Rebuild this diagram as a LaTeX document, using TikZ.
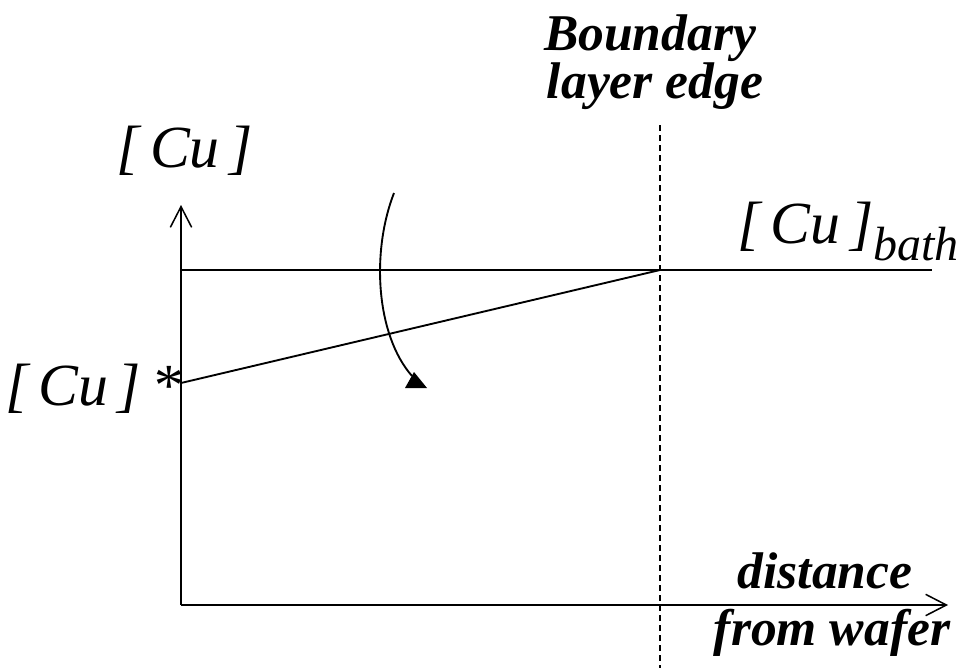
\documentclass[tikz,border=0pt]{standalone}
\usepackage{fontspec}
\setmainfont{Liberation Serif}
\usetikzlibrary{arrows.meta}
\tikzset{
  axis/.style={line width=1.6pt,-{Straight Barb[length=0.62cm,width=0.64cm,line width=1.3pt]}},
  plain/.style={line width=1.6pt},
  lbl/.style={anchor=base,inner sep=0pt,font=\fontsize{51}{55}\selectfont\itshape},
  bold lbl/.style={anchor=base,inner sep=0pt,align=center,font=\fontsize{44}{48}\selectfont\bfseries\itshape}
}
\begin{document}
\begin{tikzpicture}[x=0.03cm,y=-0.03cm]
  \useasboundingbox (0,0) rectangle (961,668);
  % axes
  \coordinate (O) at (181,605);
  \coordinate (ytip) at (181,205);
  \coordinate (xtip) at (948,605);
  \draw[axis] (O)--(ytip);
  \draw[axis] (O)--(xtip);
  % bath level and gradient
  \coordinate (bathL) at (181,270);
  \coordinate (bathR) at (932,270);
  \coordinate (E) at (660,270);
  \coordinate (S) at (181,383);
  \draw[plain] (bathL)--(bathR);
  \draw[plain] (S)--(E);
  % boundary layer edge
  \coordinate (Etop) at (660,125);
  \coordinate (Ebot) at (660,668);
  \draw[line width=1pt,dash pattern=on 0.18cm off 0.12cm] (Etop)--(Ebot);
  % curved arrow
  \coordinate (c0) at (394,193);
  \coordinate (c1) at (412,376);
  \draw[plain] (c0) .. controls (371,252) and (376,335) .. (c1);
  \fill (414,372)--(427,388)--(405,388)--cycle;
  % labels
  \node[bold lbl] (bnd) at (650,50) {Boundary};
  \node[bold lbl] (lay) at (655,98) {layer edge};
  \node[lbl] (cu) at (185,167) {[\,Cu\,]};
  \node[lbl] (cubath) at (848,243) {[\,Cu\,]\raisebox{-15pt}{\fontsize{41}{44}\selectfont\itshape bath}};
  \node[lbl] (custar) at (93,405) {[\,Cu\,]\,*};
  \node[bold lbl] (dist) at (825,588) {distance};
  \node[bold lbl] (wafer) at (832,645) {from wafer};
\end{tikzpicture}
\end{document}
